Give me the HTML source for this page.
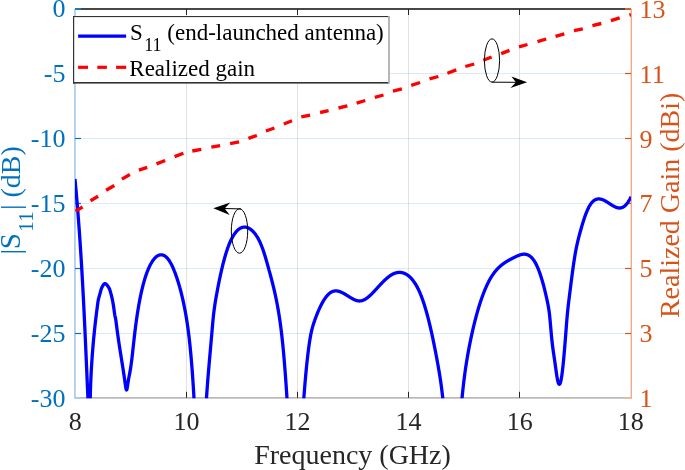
<!DOCTYPE html>
<html><head><meta charset="utf-8"><style>
html,body{margin:0;padding:0;background:#fff;}
svg{display:block;will-change:transform;}
</style></head><body>
<svg width="685" height="470" viewBox="0 0 685 470">
<defs><clipPath id="ax"><rect x="75.0" y="9.0" width="556.0" height="389.2"/></clipPath></defs>
<rect width="685" height="470" fill="#fff"/>
<line x1="186.5" y1="9.0" x2="186.5" y2="397.8" stroke="rgba(0,0,0,0.115)" stroke-width="1"/>
<line x1="297.5" y1="9.0" x2="297.5" y2="397.8" stroke="rgba(0,0,0,0.115)" stroke-width="1"/>
<line x1="408.5" y1="9.0" x2="408.5" y2="397.8" stroke="rgba(0,0,0,0.115)" stroke-width="1"/>
<line x1="519.5" y1="9.0" x2="519.5" y2="397.8" stroke="rgba(0,0,0,0.115)" stroke-width="1"/>
<line x1="75.0" y1="73.5" x2="631.0" y2="73.5" stroke="rgba(0,114,189,0.14)" stroke-width="1"/>
<line x1="75.0" y1="138.5" x2="631.0" y2="138.5" stroke="rgba(0,114,189,0.14)" stroke-width="1"/>
<line x1="75.0" y1="203.5" x2="631.0" y2="203.5" stroke="rgba(0,114,189,0.14)" stroke-width="1"/>
<line x1="75.0" y1="268.5" x2="631.0" y2="268.5" stroke="rgba(0,114,189,0.14)" stroke-width="1"/>
<line x1="75.0" y1="333.5" x2="631.0" y2="333.5" stroke="rgba(0,114,189,0.14)" stroke-width="1"/>
<rect x="75.0" y="8.1" width="556.0" height="1.8" fill="#333333"/>
<rect x="75.0" y="397" width="556.0" height="1.7" fill="#b8b8b8"/>
<rect x="74.1" y="9.0" width="1.7" height="389.7" fill="#a8cde9"/>
<rect x="630.6" y="9.0" width="1.4" height="389.7" fill="#eeaa8c"/>
<line x1="186.5" y1="397.8" x2="186.5" y2="391.8" stroke="#262626" stroke-width="1"/>
<line x1="186.5" y1="9.0" x2="186.5" y2="15.0" stroke="#262626" stroke-width="1"/>
<line x1="297.5" y1="397.8" x2="297.5" y2="391.8" stroke="#262626" stroke-width="1"/>
<line x1="297.5" y1="9.0" x2="297.5" y2="15.0" stroke="#262626" stroke-width="1"/>
<line x1="408.5" y1="397.8" x2="408.5" y2="391.8" stroke="#262626" stroke-width="1"/>
<line x1="408.5" y1="9.0" x2="408.5" y2="15.0" stroke="#262626" stroke-width="1"/>
<line x1="519.5" y1="397.8" x2="519.5" y2="391.8" stroke="#262626" stroke-width="1"/>
<line x1="519.5" y1="9.0" x2="519.5" y2="15.0" stroke="#262626" stroke-width="1"/>
<rect x="75.0" y="8.1" width="6" height="1.8" fill="#1b7ec3"/>
<rect x="75.0" y="397" width="6" height="1.7" fill="#a8cde9"/>
<line x1="75.0" y1="73.5" x2="81.0" y2="73.5" stroke="#0072BD" stroke-width="1.2"/>
<line x1="75.0" y1="138.5" x2="81.0" y2="138.5" stroke="#0072BD" stroke-width="1.2"/>
<line x1="75.0" y1="203.5" x2="81.0" y2="203.5" stroke="#0072BD" stroke-width="1.2"/>
<line x1="75.0" y1="268.5" x2="81.0" y2="268.5" stroke="#0072BD" stroke-width="1.2"/>
<line x1="75.0" y1="333.5" x2="81.0" y2="333.5" stroke="#0072BD" stroke-width="1.2"/>
<rect x="625.0" y="8.1" width="6" height="1.8" fill="#dc6530"/>
<rect x="625.0" y="397" width="6" height="1.7" fill="#f0b496"/>
<line x1="631.0" y1="73.5" x2="625.0" y2="73.5" stroke="#D95319" stroke-width="1.2"/>
<line x1="631.0" y1="138.5" x2="625.0" y2="138.5" stroke="#D95319" stroke-width="1.2"/>
<line x1="631.0" y1="203.5" x2="625.0" y2="203.5" stroke="#D95319" stroke-width="1.2"/>
<line x1="631.0" y1="268.5" x2="625.0" y2="268.5" stroke="#D95319" stroke-width="1.2"/>
<line x1="631.0" y1="333.5" x2="625.0" y2="333.5" stroke="#D95319" stroke-width="1.2"/>
<g clip-path="url(#ax)"><path d="M74.96,179.00 L75.14,180.87 L75.32,182.75 L75.49,184.62 L75.66,186.50 L75.84,188.37 L76.01,190.24 L76.18,192.12 L76.34,193.99 L76.51,195.87 L76.67,197.74 L76.83,199.61 L76.99,201.49 L77.15,203.36 L77.31,205.24 L77.46,207.11 L77.62,208.98 L77.77,210.86 L77.92,212.73 L78.07,214.61 L78.21,216.48 L78.36,218.35 L78.50,220.23 L78.64,222.10 L78.78,223.97 L78.92,225.85 L79.06,227.72 L79.20,229.60 L79.33,231.47 L79.47,233.34 L79.60,235.22 L79.73,237.09 L79.86,238.97 L79.99,240.84 L80.12,242.71 L80.24,244.59 L80.37,246.46 L80.49,248.34 L80.61,250.21 L80.73,252.08 L80.85,253.96 L80.97,255.83 L81.09,257.71 L81.20,259.58 L81.32,261.45 L81.43,263.33 L81.55,265.20 L81.66,267.08 L81.77,268.95 L81.88,270.82 L81.99,272.70 L82.09,274.57 L82.20,276.45 L82.31,278.32 L82.41,280.19 L82.52,282.07 L82.62,283.94 L82.72,285.82 L82.82,287.69 L82.92,289.56 L83.02,291.44 L83.12,293.31 L83.22,295.18 L83.32,297.06 L83.41,298.93 L83.51,300.81 L83.60,302.68 L83.70,304.55 L83.79,306.43 L83.89,308.30 L83.98,310.18 L84.07,312.05 L84.16,313.92 L84.25,315.80 L84.34,317.67 L84.43,319.55 L84.52,321.42 L84.61,323.29 L84.70,325.17 L84.78,327.04 L84.87,328.92 L84.96,330.79 L85.04,332.66 L85.13,334.54 L85.22,336.41 L85.30,338.29 L85.39,340.16 L85.47,342.03 L85.55,343.91 L85.64,345.78 L85.72,347.66 L85.80,349.53 L85.89,351.40 L85.97,353.28 L86.05,355.15 L86.13,357.03 L86.22,358.90 L86.30,360.77 L86.38,362.65 L86.46,364.52 L86.54,366.39 L86.62,368.27 L86.71,370.14 L86.79,372.02 L86.87,373.89 L86.95,375.76 L87.03,377.64 L87.11,379.51 L87.20,381.39 L87.28,383.26 L87.36,385.13 L87.44,387.01 L87.52,388.88 L87.60,390.76 L87.69,392.63 L87.77,394.50 L87.85,396.38 L87.93,398.25 L88.02,400.13 L88.10,402.00 L89.00,410.00 L90.18,402.00 L90.21,400.28 L90.25,398.55 L90.28,396.83 L90.32,395.11 L90.37,393.38 L90.41,391.66 L90.47,389.93 L90.52,388.21 L90.58,386.49 L90.64,384.76 L90.71,383.04 L90.78,381.32 L90.85,379.59 L90.93,377.87 L91.01,376.14 L91.09,374.42 L91.18,372.70 L91.27,370.97 L91.37,369.25 L91.47,367.53 L91.57,365.80 L91.68,364.08 L91.79,362.35 L91.90,360.63 L92.02,358.91 L92.14,357.18 L92.26,355.46 L92.39,353.74 L92.52,352.01 L92.66,350.29 L92.80,348.56 L92.94,346.84 L93.09,345.12 L93.24,343.39 L93.39,341.67 L93.55,339.95 L93.71,338.22 L93.88,336.50 L94.05,334.77 L94.22,333.05 L94.40,331.33 L94.58,329.60 L94.76,327.88 L94.95,326.16 L95.14,324.43 L95.33,322.71 L95.53,320.98 L95.73,319.26 L95.94,317.54 L96.15,315.81 L96.36,314.09 L96.58,312.37 L96.80,310.64 L97.02,308.92 L97.25,307.19 L97.48,305.47 L97.72,303.75 L97.95,302.02 L98.20,300.30 L98.20,300.30 L98.32,299.74 L98.46,299.16 L98.61,298.54 L98.78,297.91 L98.96,297.27 L99.14,296.61 L99.33,295.95 L99.53,295.29 L99.72,294.64 L99.90,294.00 L100.08,293.35 L100.25,292.69 L100.42,292.02 L100.58,291.35 L100.76,290.68 L100.94,290.02 L101.13,289.38 L101.35,288.76 L101.59,288.16 L101.85,287.60 L102.10,287.11 L102.37,286.59 L102.65,286.06 L102.95,285.53 L103.26,285.04 L103.57,284.58 L103.90,284.20 L104.23,283.89 L104.56,283.69 L104.90,283.60 L105.27,283.65 L105.66,283.83 L106.08,284.13 L106.50,284.51 L106.92,284.97 L107.34,285.47 L107.74,286.01 L108.12,286.55 L108.48,287.09 L108.80,287.60 L109.11,288.16 L109.39,288.75 L109.64,289.36 L109.87,290.01 L110.08,290.67 L110.27,291.34 L110.46,292.01 L110.64,292.68 L110.82,293.35 L111.00,294.00 L111.18,294.63 L111.35,295.26 L111.51,295.90 L111.67,296.53 L111.82,297.16 L111.96,297.80 L112.10,298.43 L112.24,299.06 L112.37,299.68 L112.50,300.30 L112.62,300.87 L112.73,301.43 L112.83,301.99 L112.93,302.53 L113.02,303.08 L113.12,303.64 L113.21,304.20 L113.30,304.78 L113.40,305.38 L113.50,306.00 L113.63,306.83 L113.76,307.71 L113.88,308.63 L114.01,309.57 L114.14,310.52 L114.27,311.48 L114.40,312.42 L114.53,313.32 L114.67,314.19 L114.80,315.00 L114.90,315.57 L115.01,316.08 L115.11,316.57 L115.21,317.03 L115.31,317.49 L115.42,317.96 L115.53,318.45 L115.64,318.99 L115.75,319.58 L115.87,320.23 L115.87,320.23 L116.01,321.36 L116.14,322.47 L116.28,323.57 L116.42,324.66 L116.56,325.74 L116.70,326.82 L116.84,327.88 L116.98,328.93 L117.12,329.98 L117.26,331.02 L117.39,332.04 L117.53,333.06 L117.67,334.07 L117.81,335.07 L117.95,336.06 L118.09,337.05 L118.23,338.03 L118.37,338.99 L118.51,339.95 L118.65,340.91 L118.78,341.85 L118.92,342.79 L119.06,343.72 L119.20,344.65 L119.34,345.56 L119.48,346.48 L119.62,347.38 L119.76,348.28 L119.90,349.18 L120.04,350.07 L120.18,350.96 L120.31,351.84 L120.45,352.72 L120.59,353.59 L120.73,354.47 L120.87,355.34 L121.01,356.20 L121.15,357.07 L121.29,357.94 L121.43,358.80 L121.57,359.66 L121.70,360.53 L121.84,361.40 L121.98,362.26 L122.12,363.13 L122.26,364.00 L122.40,364.88 L122.54,365.76 L122.68,366.64 L122.82,367.53 L122.96,368.42 L123.09,369.32 L123.23,370.22 L123.37,371.12 L123.51,372.04 L123.65,372.95 L123.79,373.88 L123.93,374.80 L124.07,375.74 L124.21,376.68 L124.34,377.63 L124.48,378.59 L124.62,379.55 L124.76,380.52 L124.90,381.50 L125.04,382.48 L125.18,383.48 L125.32,384.47 L125.46,385.44 L125.60,386.37 L125.73,387.24 L125.87,388.03 L126.01,388.71 L126.15,389.27 L126.29,389.68 L126.43,389.92 L126.57,389.97 L126.71,389.82 L126.85,389.47 L126.99,388.96 L127.12,388.31 L127.26,387.54 L127.40,386.69 L127.54,385.77 L127.68,384.83 L127.82,383.87 L127.96,382.92 L128.10,382.01 L128.24,381.14 L128.38,380.31 L128.52,379.51 L128.65,378.73 L128.79,377.97 L128.93,377.23 L129.07,376.50 L129.21,375.77 L129.35,375.06 L129.49,374.34 L129.63,373.62 L129.77,372.88 L129.91,372.14 L130.04,371.39 L130.18,370.61 L130.32,369.81 L130.46,368.99 L130.60,368.14 L130.74,367.25 L130.88,366.34 L131.02,365.38 L131.16,364.39 L131.29,363.36 L131.43,362.30 L131.57,361.21 L131.71,360.09 L131.85,358.94 L131.99,357.78 L132.13,356.59 L132.27,355.39 L132.41,354.17 L132.55,352.94 L132.68,351.70 L132.82,350.45 L132.96,349.19 L133.10,347.93 L133.24,346.67 L133.38,345.41 L133.52,344.14 L133.66,342.88 L133.80,341.63 L133.94,340.38 L134.07,339.14 L134.21,337.91 L134.35,336.69 L134.49,335.47 L134.63,334.28 L134.77,333.09 L134.91,331.92 L135.05,330.77 L135.19,329.63 L135.33,328.51 L135.47,327.41 L135.60,326.32 L135.74,325.25 L135.88,324.19 L136.02,323.15 L136.16,322.12 L136.30,321.11 L136.44,320.11 L136.58,319.13 L136.72,318.16 L136.86,317.20 L136.99,316.26 L137.13,315.33 L137.27,314.41 L137.41,313.51 L137.55,312.62 L137.69,311.73 L137.83,310.87 L137.97,310.01 L138.11,309.16 L138.24,308.33 L138.38,307.50 L138.52,306.69 L138.66,305.89 L138.80,305.09 L138.94,304.31 L139.08,303.54 L139.22,302.78 L139.36,302.03 L139.50,301.28 L139.63,300.55 L139.77,299.83 L139.91,299.11 L140.05,298.40 L140.19,297.71 L140.33,297.02 L140.47,296.34 L140.61,295.67 L140.75,295.01 L140.89,294.35 L141.02,293.71 L141.16,293.07 L141.30,292.44 L141.44,291.81 L141.58,291.20 L141.72,290.59 L141.86,289.99 L142.00,289.40 L142.14,288.82 L142.28,288.24 L142.42,287.67 L142.55,287.10 L142.69,286.55 L142.83,286.00 L142.97,285.46 L143.11,284.92 L143.25,284.39 L143.39,283.87 L143.53,283.35 L143.67,282.84 L143.81,282.34 L143.94,281.84 L144.08,281.35 L144.22,280.87 L144.36,280.39 L144.50,279.91 L144.64,279.45 L144.78,278.99 L144.92,278.53 L145.06,278.08 L145.19,277.64 L145.33,277.20 L145.47,276.77 L145.61,276.34 L145.75,275.92 L145.89,275.51 L146.03,275.10 L146.17,274.69 L146.31,274.29 L146.45,273.90 L146.58,273.51 L146.72,273.12 L146.86,272.74 L147.00,272.37 L147.14,272.00 L147.28,271.64 L147.42,271.28 L147.56,270.92 L147.70,270.57 L147.84,270.23 L147.98,269.89 L148.11,269.55 L148.25,269.22 L148.39,268.89 L148.53,268.57 L148.67,268.25 L148.81,267.94 L148.95,267.63 L149.09,267.32 L149.23,267.02 L149.37,266.72 L149.50,266.43 L149.64,266.14 L149.78,265.86 L149.92,265.58 L150.06,265.30 L150.20,265.03 L150.34,264.77 L150.48,264.50 L150.62,264.24 L150.76,263.99 L150.89,263.73 L151.03,263.49 L151.17,263.24 L151.31,263.00 L151.45,262.77 L151.59,262.53 L151.73,262.30 L151.87,262.08 L152.01,261.86 L152.14,261.64 L152.28,261.43 L152.42,261.22 L152.56,261.01 L152.70,260.81 L152.84,260.61 L152.98,260.41 L153.12,260.22 L153.26,260.03 L153.40,259.84 L153.53,259.66 L153.67,259.48 L153.81,259.31 L153.95,259.13 L154.09,258.97 L154.23,258.80 L154.37,258.64 L154.51,258.48 L154.65,258.33 L154.79,258.18 L154.93,258.03 L155.06,257.88 L155.20,257.74 L155.34,257.60 L155.48,257.47 L155.62,257.34 L155.76,257.21 L155.90,257.09 L156.04,256.97 L156.18,256.85 L156.32,256.73 L156.45,256.62 L156.59,256.52 L156.73,256.41 L156.87,256.31 L157.01,256.21 L157.15,256.12 L157.29,256.03 L157.43,255.94 L157.57,255.85 L157.71,255.77 L157.84,255.69 L157.98,255.62 L158.12,255.55 L158.26,255.48 L158.40,255.41 L158.54,255.35 L158.68,255.29 L158.82,255.24 L158.96,255.19 L159.09,255.14 L159.23,255.09 L159.37,255.05 L159.51,255.01 L159.65,254.97 L159.79,254.94 L159.93,254.91 L160.07,254.88 L160.21,254.86 L160.35,254.84 L160.48,254.83 L160.62,254.81 L160.76,254.80 L160.90,254.80 L161.04,254.79 L161.18,254.79 L161.32,254.80 L161.46,254.80 L161.60,254.81 L161.74,254.82 L161.88,254.84 L162.01,254.86 L162.15,254.88 L162.29,254.91 L162.43,254.94 L162.57,254.97 L162.71,255.01 L162.85,255.05 L162.99,255.09 L163.13,255.14 L163.27,255.19 L163.40,255.24 L163.54,255.30 L163.68,255.36 L163.82,255.42 L163.96,255.49 L164.10,255.56 L164.24,255.63 L164.38,255.71 L164.52,255.79 L164.66,255.87 L164.79,255.96 L164.93,256.05 L165.07,256.14 L165.21,256.24 L165.35,256.34 L165.49,256.45 L165.63,256.56 L165.77,256.67 L165.91,256.78 L166.04,256.90 L166.18,257.03 L166.32,257.15 L166.46,257.28 L166.60,257.42 L166.74,257.55 L166.88,257.69 L167.02,257.84 L167.16,257.99 L167.30,258.14 L167.43,258.30 L167.57,258.46 L167.71,258.62 L167.85,258.79 L167.99,258.96 L168.13,259.13 L168.27,259.31 L168.41,259.50 L168.55,259.68 L168.69,259.87 L168.82,260.07 L168.96,260.27 L169.10,260.47 L169.24,260.68 L169.38,260.89 L169.52,261.10 L169.66,261.32 L169.80,261.55 L169.94,261.77 L170.08,262.00 L170.22,262.24 L170.35,262.48 L170.49,262.72 L170.63,262.97 L170.77,263.22 L170.91,263.48 L171.05,263.74 L171.19,264.00 L171.33,264.27 L171.47,264.54 L171.61,264.81 L171.74,265.09 L171.88,265.37 L172.02,265.66 L172.16,265.95 L172.30,266.24 L172.44,266.54 L172.58,266.84 L172.72,267.15 L172.86,267.46 L172.99,267.77 L173.13,268.09 L173.27,268.41 L173.41,268.73 L173.55,269.06 L173.69,269.39 L173.83,269.73 L173.97,270.07 L174.11,270.41 L174.25,270.76 L174.38,271.11 L174.52,271.46 L174.66,271.82 L174.80,272.18 L174.94,272.55 L175.08,272.92 L175.22,273.29 L175.36,273.66 L175.50,274.04 L175.64,274.43 L175.77,274.81 L175.91,275.20 L176.05,275.60 L176.19,276.00 L176.33,276.40 L176.47,276.80 L176.61,277.21 L176.75,277.62 L176.89,278.04 L177.03,278.45 L177.17,278.88 L177.30,279.30 L177.44,279.73 L177.58,280.16 L177.72,280.60 L177.86,281.04 L178.00,281.48 L178.14,281.93 L178.28,282.38 L178.42,282.83 L178.56,283.29 L178.69,283.75 L178.83,284.22 L178.97,284.69 L179.11,285.16 L179.25,285.64 L179.39,286.12 L179.53,286.61 L179.67,287.10 L179.81,287.60 L179.94,288.10 L180.08,288.60 L180.22,289.11 L180.36,289.63 L180.50,290.14 L180.64,290.67 L180.78,291.20 L180.92,291.73 L181.06,292.27 L181.20,292.82 L181.33,293.37 L181.47,293.92 L181.61,294.48 L181.75,295.05 L181.89,295.62 L182.03,296.20 L182.17,296.79 L182.31,297.38 L182.45,297.97 L182.59,298.58 L182.73,299.19 L182.86,299.80 L183.00,300.42 L183.14,301.05 L183.28,301.69 L183.42,302.33 L183.56,302.98 L183.70,303.64 L183.84,304.31 L183.98,304.98 L184.12,305.66 L184.25,306.35 L184.39,307.05 L184.53,307.75 L184.67,308.46 L184.81,309.18 L184.95,309.91 L185.09,310.65 L185.23,311.40 L185.37,312.16 L185.51,312.93 L185.64,313.71 L185.78,314.50 L185.92,315.29 L186.06,316.10 L186.20,316.93 L186.34,317.76 L186.48,318.60 L186.62,319.46 L186.76,320.33 L186.89,321.21 L187.03,322.11 L187.17,323.02 L187.31,323.95 L187.45,324.89 L187.59,325.85 L187.73,326.82 L187.87,327.82 L188.01,328.83 L188.15,329.86 L188.28,330.91 L188.42,331.98 L188.56,333.07 L188.70,334.19 L188.84,335.32 L188.98,336.48 L189.12,337.66 L189.26,338.86 L189.40,340.09 L189.54,341.34 L189.68,342.61 L189.81,343.91 L189.95,345.24 L190.09,346.59 L190.23,347.96 L190.37,349.37 L190.51,350.80 L190.65,352.26 L190.79,353.75 L190.93,355.27 L191.07,356.82 L191.20,358.40 L191.34,360.01 L191.48,361.65 L191.62,363.33 L191.76,365.05 L191.90,366.80 L192.04,368.59 L192.18,370.41 L192.32,372.28 L192.46,374.19 L192.59,376.13 L192.73,378.13 L192.87,380.16 L193.01,382.25 L193.15,384.38 L193.29,386.56 L193.43,388.79 L193.57,391.08 L193.71,393.42 L193.84,395.82 L193.98,398.29 L194.12,400.81 L194.26,403.41 L194.40,406.07 L194.54,408.80 L194.68,411.61 L194.82,414.50 L194.96,417.48 L195.10,420.54 L195.23,423.70 L195.37,426.95 L195.51,430.00 L195.65,430.00 L195.79,430.00 L195.93,430.00 L196.07,430.00 L196.21,430.00 L196.35,430.00 L196.49,430.00 L196.62,430.00 L196.76,430.00 L196.90,430.00 L197.04,430.00 L197.18,430.00 L197.32,430.00 L197.46,430.00 L197.60,430.00 L197.74,430.00 L197.88,430.00 L198.02,430.00 L198.15,430.00 L198.29,430.00 L198.43,430.00 L198.57,430.00 L198.71,430.00 L198.85,430.00 L198.99,430.00 L199.13,430.00 L199.27,430.00 L199.41,430.00 L199.54,430.00 L199.68,430.00 L199.82,430.00 L199.96,430.00 L200.10,430.00 L200.24,430.00 L200.38,430.00 L200.52,430.00 L200.66,430.00 L200.79,430.00 L200.93,430.00 L201.07,430.00 L201.21,430.00 L201.35,430.00 L201.49,430.00 L201.63,430.00 L201.77,430.00 L201.91,430.00 L202.05,430.00 L202.18,430.00 L202.32,430.00 L202.46,430.00 L202.60,430.00 L202.74,430.00 L202.88,430.00 L203.02,430.00 L203.16,430.00 L203.30,430.00 L203.44,430.00 L203.58,430.00 L203.71,430.00 L203.85,430.00 L203.99,430.00 L204.13,430.00 L204.27,430.00 L204.41,430.00 L204.55,430.00 L204.69,430.00 L204.83,428.82 L204.97,425.83 L205.10,422.93 L205.24,420.11 L205.38,417.38 L205.52,414.74 L205.66,412.16 L205.80,409.67 L205.94,407.24 L206.08,404.88 L206.22,402.58 L206.36,400.34 L206.49,398.17 L206.63,396.05 L206.77,393.98 L206.91,391.96 L207.05,389.99 L207.19,388.06 L207.33,386.17 L207.47,384.31 L207.61,382.49 L207.74,380.69 L207.88,378.93 L208.02,377.19 L208.16,375.47 L208.30,373.78 L208.44,372.10 L208.58,370.44 L208.72,368.80 L208.86,367.17 L209.00,365.55 L209.13,363.95 L209.27,362.35 L209.41,360.76 L209.55,359.17 L209.69,357.60 L209.83,356.02 L209.97,354.45 L210.11,352.88 L210.25,351.31 L210.39,349.75 L210.53,348.18 L210.66,346.61 L210.80,345.03 L210.94,343.46 L211.08,341.88 L211.22,340.29 L211.36,338.71 L211.50,337.11 L211.64,335.51 L211.78,333.90 L211.92,332.29 L212.05,330.67 L212.19,329.06 L212.33,327.45 L212.47,325.86 L212.61,324.30 L212.75,322.77 L212.89,321.28 L213.03,319.83 L213.17,318.44 L213.31,317.09 L213.44,315.80 L213.58,314.55 L213.72,313.34 L213.86,312.18 L214.00,311.05 L214.14,309.96 L214.28,308.90 L214.42,307.88 L214.56,306.88 L214.69,305.91 L214.83,304.97 L214.97,304.05 L215.11,303.15 L215.25,302.27 L215.39,301.41 L215.53,300.57 L215.67,299.74 L215.81,298.93 L215.95,298.12 L216.08,297.33 L216.22,296.55 L216.36,295.77 L216.50,295.00 L216.64,294.24 L216.78,293.48 L216.92,292.72 L217.06,291.97 L217.20,291.23 L217.34,290.48 L217.47,289.75 L217.61,289.01 L217.75,288.28 L217.89,287.56 L218.03,286.84 L218.17,286.12 L218.31,285.41 L218.45,284.71 L218.59,284.01 L218.73,283.31 L218.87,282.61 L219.00,281.93 L219.14,281.24 L219.28,280.56 L219.42,279.89 L219.56,279.22 L219.70,278.55 L219.84,277.89 L219.98,277.24 L220.12,276.58 L220.26,275.94 L220.39,275.29 L220.53,274.66 L220.67,274.02 L220.81,273.40 L220.95,272.77 L221.09,272.15 L221.23,271.54 L221.37,270.93 L221.51,270.32 L221.64,269.72 L221.78,269.12 L221.92,268.53 L222.06,267.95 L222.20,267.36 L222.34,266.79 L222.48,266.21 L222.62,265.65 L222.76,265.08 L222.90,264.52 L223.03,263.97 L223.17,263.42 L223.31,262.88 L223.45,262.33 L223.59,261.80 L223.73,261.27 L223.87,260.74 L224.01,260.22 L224.15,259.70 L224.29,259.19 L224.42,258.69 L224.56,258.18 L224.70,257.68 L224.84,257.19 L224.98,256.70 L225.12,256.22 L225.26,255.74 L225.40,255.26 L225.54,254.79 L225.68,254.33 L225.82,253.87 L225.95,253.41 L226.09,252.96 L226.23,252.52 L226.37,252.07 L226.51,251.64 L226.65,251.21 L226.79,250.78 L226.93,250.36 L227.07,249.94 L227.21,249.52 L227.34,249.12 L227.48,248.71 L227.62,248.31 L227.76,247.92 L227.90,247.53 L228.04,247.14 L228.18,246.76 L228.32,246.39 L228.46,246.02 L228.59,245.65 L228.73,245.29 L228.87,244.93 L229.01,244.58 L229.15,244.23 L229.29,243.89 L229.43,243.55 L229.57,243.22 L229.71,242.89 L229.85,242.56 L229.98,242.24 L230.12,241.92 L230.26,241.61 L230.40,241.30 L230.54,241.00 L230.68,240.70 L230.82,240.40 L230.96,240.11 L231.10,239.82 L231.24,239.54 L231.38,239.26 L231.51,238.98 L231.65,238.71 L231.79,238.44 L231.93,238.17 L232.07,237.91 L232.21,237.65 L232.35,237.40 L232.49,237.15 L232.63,236.90 L232.77,236.66 L232.90,236.42 L233.04,236.18 L233.18,235.95 L233.32,235.72 L233.46,235.50 L233.60,235.27 L233.74,235.05 L233.88,234.84 L234.02,234.63 L234.16,234.42 L234.29,234.21 L234.43,234.01 L234.57,233.81 L234.71,233.62 L234.85,233.43 L234.99,233.24 L235.13,233.05 L235.27,232.87 L235.41,232.69 L235.54,232.51 L235.68,232.34 L235.82,232.17 L235.96,232.00 L236.10,231.84 L236.24,231.68 L236.38,231.52 L236.52,231.37 L236.66,231.22 L236.80,231.07 L236.93,230.92 L237.07,230.78 L237.21,230.64 L237.35,230.50 L237.49,230.37 L237.63,230.24 L237.77,230.11 L237.91,229.98 L238.05,229.86 L238.19,229.74 L238.33,229.62 L238.46,229.51 L238.60,229.40 L238.74,229.29 L238.88,229.18 L239.02,229.08 L239.16,228.98 L239.30,228.88 L239.44,228.79 L239.58,228.70 L239.72,228.61 L239.85,228.52 L239.99,228.44 L240.13,228.35 L240.27,228.28 L240.41,228.20 L240.55,228.13 L240.69,228.05 L240.83,227.99 L240.97,227.92 L241.11,227.86 L241.24,227.80 L241.38,227.74 L241.52,227.68 L241.66,227.63 L241.80,227.58 L241.94,227.53 L242.08,227.49 L242.22,227.44 L242.36,227.40 L242.49,227.37 L242.63,227.33 L242.77,227.30 L242.91,227.27 L243.05,227.24 L243.19,227.21 L243.33,227.19 L243.47,227.17 L243.61,227.15 L243.75,227.14 L243.88,227.12 L244.02,227.11 L244.16,227.11 L244.30,227.10 L244.44,227.10 L244.58,227.10 L244.72,227.10 L244.86,227.10 L245.00,227.11 L245.14,227.12 L245.28,227.13 L245.41,227.14 L245.55,227.16 L245.69,227.17 L245.83,227.19 L245.97,227.22 L246.11,227.24 L246.25,227.27 L246.39,227.30 L246.53,227.33 L246.67,227.37 L246.80,227.40 L246.94,227.44 L247.08,227.49 L247.22,227.53 L247.36,227.58 L247.50,227.62 L247.64,227.68 L247.78,227.73 L247.92,227.78 L248.06,227.84 L248.19,227.90 L248.33,227.97 L248.47,228.03 L248.61,228.10 L248.75,228.17 L248.89,228.24 L249.03,228.32 L249.17,228.39 L249.31,228.47 L249.44,228.55 L249.58,228.64 L249.72,228.72 L249.86,228.81 L250.00,228.90 L250.14,228.99 L250.28,229.09 L250.42,229.19 L250.56,229.29 L250.70,229.39 L250.83,229.49 L250.97,229.60 L251.11,229.71 L251.25,229.82 L251.39,229.94 L251.53,230.05 L251.67,230.17 L251.81,230.29 L251.95,230.42 L252.09,230.54 L252.22,230.67 L252.36,230.80 L252.50,230.93 L252.64,231.07 L252.78,231.21 L252.92,231.35 L253.06,231.49 L253.20,231.63 L253.34,231.78 L253.48,231.93 L253.62,232.08 L253.75,232.24 L253.89,232.39 L254.03,232.55 L254.17,232.72 L254.31,232.88 L254.45,233.05 L254.59,233.22 L254.73,233.39 L254.87,233.56 L255.01,233.74 L255.14,233.92 L255.28,234.11 L255.42,234.29 L255.56,234.48 L255.70,234.67 L255.84,234.87 L255.98,235.06 L256.12,235.27 L256.26,235.47 L256.39,235.68 L256.53,235.89 L256.67,236.10 L256.81,236.31 L256.95,236.53 L257.09,236.76 L257.23,236.98 L257.37,237.21 L257.51,237.44 L257.65,237.68 L257.78,237.92 L257.92,238.16 L258.06,238.41 L258.20,238.65 L258.34,238.91 L258.48,239.16 L258.62,239.42 L258.76,239.69 L258.90,239.96 L259.04,240.23 L259.17,240.50 L259.31,240.78 L259.45,241.07 L259.59,241.35 L259.73,241.64 L259.87,241.94 L260.01,242.24 L260.15,242.54 L260.29,242.85 L260.43,243.16 L260.57,243.48 L260.70,243.80 L260.84,244.12 L260.98,244.45 L261.12,244.79 L261.26,245.13 L261.40,245.47 L261.54,245.82 L261.68,246.17 L261.82,246.53 L261.96,246.89 L262.09,247.26 L262.23,247.63 L262.37,248.01 L262.51,248.39 L262.65,248.78 L262.79,249.17 L262.93,249.56 L263.07,249.96 L263.21,250.37 L263.34,250.77 L263.48,251.19 L263.62,251.60 L263.76,252.02 L263.90,252.45 L264.04,252.87 L264.18,253.31 L264.32,253.74 L264.46,254.18 L264.60,254.62 L264.73,255.07 L264.87,255.52 L265.01,255.97 L265.15,256.43 L265.29,256.89 L265.43,257.35 L265.57,257.81 L265.71,258.28 L265.85,258.75 L265.99,259.23 L266.12,259.70 L266.26,260.18 L266.40,260.66 L266.54,261.15 L266.68,261.63 L266.82,262.12 L266.96,262.61 L267.10,263.10 L267.24,263.59 L267.38,264.09 L267.52,264.58 L267.65,265.08 L267.79,265.58 L267.93,266.08 L268.07,266.58 L268.21,267.08 L268.35,267.58 L268.49,268.09 L268.63,268.59 L268.77,269.10 L268.91,269.60 L269.04,270.11 L269.18,270.61 L269.32,271.12 L269.46,271.63 L269.60,272.13 L269.74,272.64 L269.88,273.15 L270.02,273.67 L270.16,274.18 L270.29,274.69 L270.43,275.21 L270.57,275.72 L270.71,276.24 L270.85,276.76 L270.99,277.29 L271.13,277.81 L271.27,278.34 L271.41,278.86 L271.55,279.39 L271.68,279.93 L271.82,280.46 L271.96,281.00 L272.10,281.54 L272.24,282.08 L272.38,282.62 L272.52,283.17 L272.66,283.72 L272.80,284.28 L272.94,284.84 L273.08,285.40 L273.21,285.96 L273.35,286.53 L273.49,287.10 L273.63,287.68 L273.77,288.26 L273.91,288.84 L274.05,289.43 L274.19,290.02 L274.33,290.62 L274.47,291.22 L274.60,291.83 L274.74,292.44 L274.88,293.06 L275.02,293.68 L275.16,294.31 L275.30,294.95 L275.44,295.59 L275.58,296.24 L275.72,296.89 L275.86,297.55 L275.99,298.21 L276.13,298.89 L276.27,299.57 L276.41,300.26 L276.55,300.95 L276.69,301.65 L276.83,302.36 L276.97,303.08 L277.11,303.81 L277.24,304.55 L277.38,305.29 L277.52,306.05 L277.66,306.81 L277.80,307.58 L277.94,308.37 L278.08,309.16 L278.22,309.96 L278.36,310.78 L278.50,311.60 L278.63,312.44 L278.77,313.29 L278.91,314.15 L279.05,315.03 L279.19,315.91 L279.33,316.81 L279.47,317.72 L279.61,318.65 L279.75,319.59 L279.89,320.55 L280.02,321.52 L280.16,322.51 L280.30,323.51 L280.44,324.53 L280.58,325.57 L280.72,326.63 L280.86,327.70 L281.00,328.79 L281.14,329.90 L281.28,331.03 L281.42,332.18 L281.55,333.36 L281.69,334.55 L281.83,335.77 L281.97,337.01 L282.11,338.27 L282.25,339.56 L282.39,340.86 L282.53,342.20 L282.67,343.55 L282.81,344.93 L282.94,346.33 L283.08,347.75 L283.22,349.20 L283.36,350.68 L283.50,352.17 L283.64,353.70 L283.78,355.24 L283.92,356.82 L284.06,358.41 L284.19,360.04 L284.33,361.69 L284.47,363.36 L284.61,365.07 L284.75,366.80 L284.89,368.55 L285.03,370.34 L285.17,372.15 L285.31,373.98 L285.45,375.85 L285.58,377.75 L285.72,379.67 L285.86,381.62 L286.00,383.60 L286.14,385.61 L286.28,387.66 L286.42,389.73 L286.56,391.83 L286.70,393.96 L286.84,396.12 L286.98,398.31 L287.11,400.54 L287.25,402.80 L287.39,405.09 L287.53,407.42 L287.67,409.79 L287.81,412.19 L287.95,414.63 L288.09,417.12 L288.23,419.65 L288.37,422.23 L288.50,424.85 L288.64,427.52 L288.78,430.00 L288.92,430.00 L289.06,430.00 L289.20,430.00 L289.34,430.00 L289.48,430.00 L289.62,430.00 L289.76,430.00 L289.89,430.00 L290.03,430.00 L290.17,430.00 L290.31,430.00 L290.45,430.00 L290.59,430.00 L290.73,430.00 L290.87,430.00 L291.01,430.00 L291.14,430.00 L291.28,430.00 L291.42,430.00 L291.56,430.00 L291.70,430.00 L291.84,430.00 L291.98,430.00 L292.12,430.00 L292.26,430.00 L292.40,430.00 L292.53,430.00 L292.67,430.00 L292.81,430.00 L292.95,430.00 L293.09,430.00 L293.23,430.00 L293.37,430.00 L293.51,430.00 L293.65,430.00 L293.79,430.00 L293.92,430.00 L294.06,430.00 L294.20,430.00 L294.34,430.00 L294.48,430.00 L294.62,430.00 L294.76,430.00 L294.90,430.00 L295.04,430.00 L295.18,430.00 L295.32,430.00 L295.45,430.00 L295.59,430.00 L295.73,430.00 L295.87,430.00 L296.01,430.00 L296.15,430.00 L296.29,430.00 L296.43,430.00 L296.57,430.00 L296.71,430.00 L296.84,430.00 L296.98,430.00 L297.12,430.00 L297.26,430.00 L297.40,430.00 L297.54,430.00 L297.68,430.00 L297.82,430.00 L297.96,430.00 L298.09,430.00 L298.23,430.00 L298.37,430.00 L298.51,430.00 L298.65,430.00 L298.79,430.00 L298.93,430.00 L299.07,430.00 L299.21,430.00 L299.35,430.00 L299.48,430.00 L299.62,430.00 L299.76,430.00 L299.90,430.00 L300.04,430.00 L300.18,430.00 L300.32,430.00 L300.46,430.00 L300.60,430.00 L300.74,430.00 L300.88,430.00 L301.01,430.00 L301.15,430.00 L301.29,430.00 L301.43,430.00 L301.57,430.00 L301.71,429.87 L301.85,427.53 L301.99,425.23 L302.13,422.98 L302.27,420.76 L302.40,418.58 L302.54,416.44 L302.68,414.33 L302.82,412.26 L302.96,410.22 L303.10,408.21 L303.24,406.23 L303.38,404.28 L303.52,402.36 L303.66,400.46 L303.79,398.59 L303.93,396.74 L304.07,394.92 L304.21,393.13 L304.35,391.35 L304.49,389.61 L304.63,387.88 L304.77,386.18 L304.91,384.51 L305.04,382.86 L305.18,381.23 L305.32,379.63 L305.46,378.05 L305.60,376.49 L305.74,374.96 L305.88,373.45 L306.02,371.97 L306.16,370.51 L306.30,369.07 L306.43,367.66 L306.57,366.26 L306.71,364.90 L306.85,363.55 L306.99,362.23 L307.13,360.93 L307.27,359.65 L307.41,358.39 L307.55,357.16 L307.69,355.95 L307.83,354.76 L307.96,353.60 L308.10,352.46 L308.24,351.33 L308.38,350.24 L308.52,349.16 L308.66,348.10 L308.80,347.07 L308.94,346.06 L309.08,345.07 L309.22,344.10 L309.35,343.15 L309.49,342.23 L309.63,341.32 L309.77,340.44 L309.91,339.58 L310.05,338.74 L310.19,337.92 L310.33,337.12 L310.47,336.35 L310.61,335.60 L310.74,334.86 L310.88,334.15 L311.02,333.46 L311.16,332.80 L311.30,332.15 L311.44,331.52 L311.58,330.91 L311.72,330.32 L311.86,329.75 L311.99,329.19 L312.13,328.65 L312.27,328.12 L312.41,327.60 L312.55,327.10 L312.69,326.61 L312.83,326.13 L312.97,325.66 L313.11,325.20 L313.25,324.75 L313.39,324.30 L313.52,323.87 L313.66,323.44 L313.80,323.02 L313.94,322.61 L314.08,322.20 L314.22,321.79 L314.36,321.39 L314.50,320.99 L314.64,320.60 L314.77,320.20 L314.91,319.81 L315.05,319.42 L315.19,319.04 L315.33,318.66 L315.47,318.28 L315.61,317.90 L315.75,317.52 L315.89,317.15 L316.03,316.78 L316.17,316.42 L316.30,316.05 L316.44,315.69 L316.58,315.33 L316.72,314.98 L316.86,314.62 L317.00,314.27 L317.14,313.92 L317.28,313.58 L317.42,313.23 L317.56,312.89 L317.69,312.56 L317.83,312.22 L317.97,311.89 L318.11,311.56 L318.25,311.23 L318.39,310.91 L318.53,310.58 L318.67,310.26 L318.81,309.95 L318.94,309.63 L319.08,309.32 L319.22,309.01 L319.36,308.70 L319.50,308.40 L319.64,308.10 L319.78,307.80 L319.92,307.50 L320.06,307.21 L320.20,306.92 L320.34,306.63 L320.47,306.34 L320.61,306.06 L320.75,305.78 L320.89,305.50 L321.03,305.22 L321.17,304.95 L321.31,304.68 L321.45,304.41 L321.59,304.14 L321.73,303.88 L321.86,303.62 L322.00,303.36 L322.14,303.11 L322.28,302.86 L322.42,302.61 L322.56,302.36 L322.70,302.11 L322.84,301.87 L322.98,301.63 L323.12,301.39 L323.25,301.16 L323.39,300.93 L323.53,300.70 L323.67,300.47 L323.81,300.25 L323.95,300.02 L324.09,299.81 L324.23,299.59 L324.37,299.38 L324.51,299.16 L324.64,298.96 L324.78,298.75 L324.92,298.55 L325.06,298.35 L325.20,298.15 L325.34,297.95 L325.48,297.76 L325.62,297.57 L325.76,297.38 L325.89,297.20 L326.03,297.01 L326.17,296.83 L326.31,296.66 L326.45,296.48 L326.59,296.31 L326.73,296.14 L326.87,295.97 L327.01,295.81 L327.15,295.65 L327.29,295.49 L327.42,295.34 L327.56,295.18 L327.70,295.03 L327.84,294.88 L327.98,294.74 L328.12,294.60 L328.26,294.46 L328.40,294.32 L328.54,294.19 L328.67,294.06 L328.81,293.93 L328.95,293.80 L329.09,293.68 L329.23,293.56 L329.37,293.44 L329.51,293.32 L329.65,293.21 L329.79,293.10 L329.93,293.00 L330.07,292.89 L330.20,292.79 L330.34,292.69 L330.48,292.60 L330.62,292.51 L330.76,292.42 L330.90,292.33 L331.04,292.25 L331.18,292.17 L331.32,292.09 L331.46,292.01 L331.59,291.94 L331.73,291.87 L331.87,291.80 L332.01,291.74 L332.15,291.68 L332.29,291.62 L332.43,291.56 L332.57,291.51 L332.71,291.46 L332.84,291.41 L332.98,291.36 L333.12,291.32 L333.26,291.27 L333.40,291.24 L333.54,291.20 L333.68,291.16 L333.82,291.13 L333.96,291.10 L334.10,291.08 L334.24,291.05 L334.37,291.03 L334.51,291.01 L334.65,290.99 L334.79,290.97 L334.93,290.96 L335.07,290.95 L335.21,290.94 L335.35,290.93 L335.49,290.92 L335.62,290.92 L335.76,290.92 L335.90,290.92 L336.04,290.92 L336.18,290.92 L336.32,290.93 L336.46,290.94 L336.60,290.95 L336.74,290.96 L336.88,290.97 L337.02,290.99 L337.15,291.00 L337.29,291.02 L337.43,291.04 L337.57,291.07 L337.71,291.09 L337.85,291.12 L337.99,291.14 L338.13,291.17 L338.27,291.20 L338.41,291.23 L338.54,291.27 L338.68,291.30 L338.82,291.34 L338.96,291.38 L339.10,291.42 L339.24,291.46 L339.38,291.50 L339.52,291.55 L339.66,291.59 L339.79,291.64 L339.93,291.69 L340.07,291.73 L340.21,291.79 L340.35,291.84 L340.49,291.89 L340.63,291.94 L340.77,292.00 L340.91,292.06 L341.05,292.12 L341.19,292.17 L341.32,292.23 L341.46,292.30 L341.60,292.36 L341.74,292.42 L341.88,292.49 L342.02,292.55 L342.16,292.62 L342.30,292.69 L342.44,292.75 L342.57,292.82 L342.71,292.89 L342.85,292.96 L342.99,293.04 L343.13,293.11 L343.27,293.18 L343.41,293.26 L343.55,293.33 L343.69,293.41 L343.83,293.49 L343.97,293.56 L344.10,293.64 L344.24,293.72 L344.38,293.80 L344.52,293.88 L344.66,293.96 L344.80,294.04 L344.94,294.12 L345.08,294.21 L345.22,294.29 L345.36,294.37 L345.49,294.46 L345.63,294.54 L345.77,294.63 L345.91,294.71 L346.05,294.80 L346.19,294.88 L346.33,294.97 L346.47,295.05 L346.61,295.14 L346.74,295.23 L346.88,295.32 L347.02,295.40 L347.16,295.49 L347.30,295.58 L347.44,295.67 L347.58,295.75 L347.72,295.84 L347.86,295.93 L348.00,296.02 L348.14,296.11 L348.27,296.20 L348.41,296.28 L348.55,296.37 L348.69,296.46 L348.83,296.55 L348.97,296.64 L349.11,296.72 L349.25,296.81 L349.39,296.90 L349.53,296.99 L349.66,297.07 L349.80,297.16 L349.94,297.25 L350.08,297.33 L350.22,297.42 L350.36,297.50 L350.50,297.59 L350.64,297.67 L350.78,297.76 L350.92,297.84 L351.05,297.92 L351.19,298.00 L351.33,298.09 L351.47,298.17 L351.61,298.25 L351.75,298.33 L351.89,298.41 L352.03,298.49 L352.17,298.56 L352.31,298.64 L352.44,298.72 L352.58,298.79 L352.72,298.87 L352.86,298.94 L353.00,299.02 L353.14,299.09 L353.28,299.16 L353.42,299.23 L353.56,299.30 L353.69,299.37 L353.83,299.44 L353.97,299.50 L354.11,299.57 L354.25,299.63 L354.39,299.69 L354.53,299.76 L354.67,299.82 L354.81,299.88 L354.95,299.93 L355.09,299.99 L355.22,300.05 L355.36,300.10 L355.50,300.15 L355.64,300.21 L355.78,300.26 L355.92,300.30 L356.06,300.35 L356.20,300.40 L356.34,300.44 L356.47,300.48 L356.61,300.53 L356.75,300.57 L356.89,300.60 L357.03,300.64 L357.17,300.67 L357.31,300.71 L357.45,300.74 L357.59,300.77 L357.73,300.80 L357.87,300.82 L358.00,300.85 L358.14,300.87 L358.28,300.89 L358.42,300.91 L358.56,300.92 L358.70,300.94 L358.84,300.95 L358.98,300.96 L359.12,300.97 L359.26,300.97 L359.39,300.98 L359.53,300.98 L359.67,300.98 L359.81,300.98 L359.95,300.97 L360.09,300.97 L360.23,300.96 L360.37,300.95 L360.51,300.93 L360.64,300.92 L360.78,300.90 L360.92,300.88 L361.06,300.86 L361.20,300.83 L361.34,300.81 L361.48,300.78 L361.62,300.74 L361.76,300.71 L361.90,300.67 L362.04,300.64 L362.17,300.60 L362.31,300.55 L362.45,300.51 L362.59,300.46 L362.73,300.41 L362.87,300.36 L363.01,300.31 L363.15,300.26 L363.29,300.20 L363.43,300.14 L363.56,300.08 L363.70,300.02 L363.84,299.95 L363.98,299.89 L364.12,299.82 L364.26,299.75 L364.40,299.68 L364.54,299.60 L364.68,299.53 L364.81,299.45 L364.95,299.37 L365.09,299.29 L365.23,299.21 L365.37,299.13 L365.51,299.04 L365.65,298.95 L365.79,298.86 L365.93,298.77 L366.07,298.68 L366.21,298.59 L366.34,298.49 L366.48,298.40 L366.62,298.30 L366.76,298.20 L366.90,298.10 L367.04,298.00 L367.18,297.89 L367.32,297.79 L367.46,297.68 L367.59,297.57 L367.73,297.46 L367.87,297.35 L368.01,297.24 L368.15,297.13 L368.29,297.02 L368.43,296.90 L368.57,296.78 L368.71,296.67 L368.85,296.55 L368.99,296.43 L369.12,296.31 L369.26,296.18 L369.40,296.06 L369.54,295.94 L369.68,295.81 L369.82,295.69 L369.96,295.56 L370.10,295.43 L370.24,295.30 L370.38,295.17 L370.51,295.04 L370.65,294.91 L370.79,294.78 L370.93,294.64 L371.07,294.51 L371.21,294.37 L371.35,294.24 L371.49,294.10 L371.63,293.96 L371.77,293.82 L371.90,293.69 L372.04,293.55 L372.18,293.41 L372.32,293.26 L372.46,293.12 L372.60,292.98 L372.74,292.84 L372.88,292.70 L373.02,292.55 L373.16,292.41 L373.29,292.26 L373.43,292.12 L373.57,291.97 L373.71,291.82 L373.85,291.68 L373.99,291.53 L374.13,291.38 L374.27,291.23 L374.41,291.09 L374.54,290.94 L374.68,290.79 L374.82,290.64 L374.96,290.49 L375.10,290.34 L375.24,290.19 L375.38,290.04 L375.52,289.89 L375.66,289.74 L375.80,289.59 L375.94,289.43 L376.07,289.28 L376.21,289.13 L376.35,288.98 L376.49,288.83 L376.63,288.68 L376.77,288.52 L376.91,288.37 L377.05,288.22 L377.19,288.07 L377.32,287.91 L377.46,287.76 L377.60,287.61 L377.74,287.46 L377.88,287.31 L378.02,287.15 L378.16,287.00 L378.30,286.85 L378.44,286.70 L378.58,286.55 L378.72,286.39 L378.85,286.24 L378.99,286.09 L379.13,285.94 L379.27,285.79 L379.41,285.64 L379.55,285.49 L379.69,285.34 L379.83,285.19 L379.97,285.04 L380.11,284.89 L380.24,284.74 L380.38,284.59 L380.52,284.44 L380.66,284.30 L380.80,284.15 L380.94,284.00 L381.08,283.85 L381.22,283.71 L381.36,283.56 L381.49,283.41 L381.63,283.27 L381.77,283.12 L381.91,282.98 L382.05,282.84 L382.19,282.69 L382.33,282.55 L382.47,282.41 L382.61,282.26 L382.75,282.12 L382.89,281.98 L383.02,281.84 L383.16,281.70 L383.30,281.56 L383.44,281.42 L383.58,281.29 L383.72,281.15 L383.86,281.01 L384.00,280.88 L384.14,280.74 L384.28,280.61 L384.41,280.47 L384.55,280.34 L384.69,280.21 L384.83,280.08 L384.97,279.94 L385.11,279.81 L385.25,279.68 L385.39,279.56 L385.53,279.43 L385.67,279.30 L385.80,279.17 L385.94,279.05 L386.08,278.92 L386.22,278.80 L386.36,278.68 L386.50,278.56 L386.64,278.43 L386.78,278.31 L386.92,278.19 L387.06,278.08 L387.19,277.96 L387.33,277.84 L387.47,277.73 L387.61,277.61 L387.75,277.50 L387.89,277.39 L388.03,277.27 L388.17,277.16 L388.31,277.05 L388.44,276.94 L388.58,276.84 L388.72,276.73 L388.86,276.62 L389.00,276.52 L389.14,276.42 L389.28,276.31 L389.42,276.21 L389.56,276.11 L389.70,276.01 L389.84,275.92 L389.97,275.82 L390.11,275.73 L390.25,275.63 L390.39,275.54 L390.53,275.45 L390.67,275.36 L390.81,275.27 L390.95,275.18 L391.09,275.09 L391.22,275.01 L391.36,274.92 L391.50,274.84 L391.64,274.76 L391.78,274.68 L391.92,274.60 L392.06,274.52 L392.20,274.44 L392.34,274.37 L392.48,274.29 L392.62,274.22 L392.75,274.15 L392.89,274.08 L393.03,274.01 L393.17,273.94 L393.31,273.88 L393.45,273.81 L393.59,273.75 L393.73,273.69 L393.87,273.63 L394.01,273.57 L394.14,273.51 L394.28,273.46 L394.42,273.40 L394.56,273.35 L394.70,273.30 L394.84,273.25 L394.98,273.20 L395.12,273.15 L395.26,273.11 L395.39,273.06 L395.53,273.02 L395.67,272.98 L395.81,272.94 L395.95,272.90 L396.09,272.86 L396.23,272.83 L396.37,272.79 L396.51,272.76 L396.65,272.73 L396.79,272.70 L396.92,272.67 L397.06,272.64 L397.20,272.61 L397.34,272.59 L397.48,272.57 L397.62,272.55 L397.76,272.53 L397.90,272.51 L398.04,272.49 L398.18,272.48 L398.31,272.46 L398.45,272.45 L398.59,272.44 L398.73,272.43 L398.87,272.42 L399.01,272.41 L399.15,272.41 L399.29,272.41 L399.43,272.40 L399.56,272.40 L399.70,272.40 L399.84,272.41 L399.98,272.41 L400.12,272.42 L400.26,272.42 L400.40,272.43 L400.54,272.44 L400.68,272.46 L400.82,272.47 L400.96,272.48 L401.09,272.50 L401.23,272.52 L401.37,272.54 L401.51,272.56 L401.65,272.58 L401.79,272.61 L401.93,272.63 L402.07,272.66 L402.21,272.69 L402.34,272.72 L402.48,272.75 L402.62,272.79 L402.76,272.82 L402.90,272.86 L403.04,272.90 L403.18,272.94 L403.32,272.98 L403.46,273.03 L403.60,273.07 L403.74,273.12 L403.87,273.17 L404.01,273.22 L404.15,273.27 L404.29,273.33 L404.43,273.39 L404.57,273.44 L404.71,273.50 L404.85,273.56 L404.99,273.63 L405.12,273.69 L405.26,273.76 L405.40,273.83 L405.54,273.90 L405.68,273.97 L405.82,274.04 L405.96,274.12 L406.10,274.19 L406.24,274.27 L406.38,274.35 L406.52,274.44 L406.65,274.52 L406.79,274.61 L406.93,274.69 L407.07,274.78 L407.21,274.88 L407.35,274.97 L407.49,275.07 L407.63,275.16 L407.77,275.26 L407.91,275.36 L408.04,275.47 L408.18,275.57 L408.32,275.68 L408.46,275.79 L408.60,275.90 L408.74,276.01 L408.88,276.13 L409.02,276.24 L409.16,276.36 L409.29,276.48 L409.43,276.61 L409.57,276.73 L409.71,276.86 L409.85,276.99 L409.99,277.12 L410.13,277.25 L410.27,277.39 L410.41,277.52 L410.55,277.66 L410.69,277.81 L410.82,277.95 L410.96,278.10 L411.10,278.24 L411.24,278.39 L411.38,278.55 L411.52,278.70 L411.66,278.86 L411.80,279.02 L411.94,279.18 L412.07,279.34 L412.21,279.51 L412.35,279.68 L412.49,279.85 L412.63,280.02 L412.77,280.19 L412.91,280.37 L413.05,280.55 L413.19,280.73 L413.33,280.92 L413.47,281.11 L413.60,281.29 L413.74,281.49 L413.88,281.68 L414.02,281.88 L414.16,282.08 L414.30,282.28 L414.44,282.48 L414.58,282.69 L414.72,282.90 L414.86,283.11 L414.99,283.33 L415.13,283.54 L415.27,283.76 L415.41,283.98 L415.55,284.21 L415.69,284.44 L415.83,284.67 L415.97,284.90 L416.11,285.14 L416.24,285.38 L416.38,285.62 L416.52,285.86 L416.66,286.11 L416.80,286.36 L416.94,286.61 L417.08,286.87 L417.22,287.13 L417.36,287.39 L417.50,287.65 L417.64,287.92 L417.77,288.19 L417.91,288.47 L418.05,288.74 L418.19,289.02 L418.33,289.31 L418.47,289.59 L418.61,289.88 L418.75,290.17 L418.89,290.47 L419.03,290.77 L419.16,291.07 L419.30,291.38 L419.44,291.69 L419.58,292.00 L419.72,292.32 L419.86,292.64 L420.00,292.96 L420.14,293.28 L420.28,293.61 L420.42,293.95 L420.55,294.29 L420.69,294.63 L420.83,294.97 L420.97,295.32 L421.11,295.67 L421.25,296.03 L421.39,296.39 L421.53,296.75 L421.67,297.12 L421.81,297.49 L421.94,297.86 L422.08,298.24 L422.22,298.62 L422.36,299.01 L422.50,299.39 L422.64,299.79 L422.78,300.18 L422.92,300.58 L423.06,300.99 L423.19,301.39 L423.33,301.80 L423.47,302.22 L423.61,302.64 L423.75,303.06 L423.89,303.49 L424.03,303.91 L424.17,304.35 L424.31,304.78 L424.45,305.22 L424.59,305.67 L424.72,306.12 L424.86,306.57 L425.00,307.02 L425.14,307.48 L425.28,307.94 L425.42,308.41 L425.56,308.88 L425.70,309.35 L425.84,309.83 L425.97,310.31 L426.11,310.79 L426.25,311.28 L426.39,311.77 L426.53,312.27 L426.67,312.77 L426.81,313.27 L426.95,313.77 L427.09,314.28 L427.23,314.80 L427.37,315.31 L427.50,315.83 L427.64,316.36 L427.78,316.89 L427.92,317.42 L428.06,317.95 L428.20,318.49 L428.34,319.03 L428.48,319.58 L428.62,320.13 L428.76,320.68 L428.89,321.24 L429.03,321.80 L429.17,322.36 L429.31,322.93 L429.45,323.50 L429.59,324.08 L429.73,324.65 L429.87,325.24 L430.01,325.82 L430.14,326.41 L430.28,327.00 L430.42,327.60 L430.56,328.20 L430.70,328.80 L430.84,329.41 L430.98,330.02 L431.12,330.63 L431.26,331.25 L431.40,331.87 L431.54,332.49 L431.67,333.12 L431.81,333.75 L431.95,334.39 L432.09,335.02 L432.23,335.67 L432.37,336.31 L432.51,336.96 L432.65,337.61 L432.79,338.27 L432.93,338.93 L433.06,339.59 L433.20,340.25 L433.34,340.92 L433.48,341.59 L433.62,342.27 L433.76,342.95 L433.90,343.63 L434.04,344.31 L434.18,345.00 L434.31,345.69 L434.45,346.39 L434.59,347.09 L434.73,347.79 L434.87,348.49 L435.01,349.20 L435.15,349.91 L435.29,350.62 L435.43,351.34 L435.57,352.06 L435.71,352.78 L435.84,353.51 L435.98,354.24 L436.12,354.97 L436.26,355.70 L436.40,356.44 L436.54,357.18 L436.68,357.92 L436.82,358.66 L436.96,359.41 L437.09,360.16 L437.23,360.92 L437.37,361.67 L437.51,362.43 L437.65,363.20 L437.79,363.97 L437.93,364.74 L438.07,365.52 L438.21,366.30 L438.35,367.09 L438.49,367.89 L438.62,368.69 L438.76,369.50 L438.90,370.32 L439.04,371.14 L439.18,371.98 L439.32,372.82 L439.46,373.67 L439.60,374.53 L439.74,375.40 L439.88,376.28 L440.01,377.17 L440.15,378.08 L440.29,378.99 L440.43,379.92 L440.57,380.86 L440.71,381.82 L440.85,382.79 L440.99,383.78 L441.13,384.78 L441.27,385.80 L441.40,386.83 L441.54,387.89 L441.68,388.96 L441.82,390.06 L441.96,391.17 L442.10,392.30 L442.24,393.46 L442.38,394.64 L442.52,395.85 L442.66,397.08 L442.79,398.34 L442.93,399.62 L443.07,400.93 L443.21,402.27 L443.35,403.64 L443.49,405.04 L443.63,406.47 L443.77,407.93 L443.91,409.43 L444.04,410.95 L444.18,412.51 L444.32,414.11 L444.46,415.74 L444.60,417.41 L444.74,419.11 L444.88,420.86 L445.02,422.64 L445.16,424.47 L445.30,426.34 L445.44,428.25 L445.57,430.00 L445.71,430.00 L445.85,430.00 L445.99,430.00 L446.13,430.00 L446.27,430.00 L446.41,430.00 L446.55,430.00 L446.69,430.00 L446.82,430.00 L446.96,430.00 L447.10,430.00 L447.24,430.00 L447.38,430.00 L447.52,430.00 L447.66,430.00 L447.80,430.00 L447.94,430.00 L448.08,430.00 L448.22,430.00 L448.35,430.00 L448.49,430.00 L448.63,430.00 L448.77,430.00 L448.91,430.00 L449.05,430.00 L449.19,430.00 L449.33,430.00 L449.47,430.00 L449.61,430.00 L449.74,430.00 L449.88,430.00 L450.02,430.00 L450.16,430.00 L450.30,430.00 L450.44,430.00 L450.58,430.00 L450.72,430.00 L450.86,430.00 L450.99,430.00 L451.13,430.00 L451.27,430.00 L451.41,430.00 L451.55,430.00 L451.69,430.00 L451.83,430.00 L451.97,430.00 L452.11,430.00 L452.25,430.00 L452.39,430.00 L452.52,430.00 L452.66,430.00 L452.80,430.00 L452.94,430.00 L453.08,430.00 L453.22,430.00 L453.36,430.00 L453.50,430.00 L453.64,430.00 L453.78,430.00 L453.91,430.00 L454.05,430.00 L454.19,430.00 L454.33,430.00 L454.47,430.00 L454.61,430.00 L454.75,430.00 L454.89,430.00 L455.03,430.00 L455.17,430.00 L455.30,430.00 L455.44,430.00 L455.58,430.00 L455.72,430.00 L455.86,430.00 L456.00,430.00 L456.14,430.00 L456.28,430.00 L456.42,430.00 L456.56,430.00 L456.69,430.00 L456.83,430.00 L456.97,430.00 L457.11,430.00 L457.25,430.00 L457.39,430.00 L457.53,430.00 L457.67,430.00 L457.81,430.00 L457.94,430.00 L458.08,430.00 L458.22,430.00 L458.36,430.00 L458.50,430.00 L458.64,430.00 L458.78,430.00 L458.92,430.00 L459.06,430.00 L459.20,430.00 L459.34,430.00 L459.47,430.00 L459.61,428.48 L459.75,426.41 L459.89,424.38 L460.03,422.39 L460.17,420.46 L460.31,418.56 L460.45,416.70 L460.59,414.89 L460.72,413.11 L460.86,411.37 L461.00,409.67 L461.14,408.00 L461.28,406.36 L461.42,404.76 L461.56,403.19 L461.70,401.65 L461.84,400.15 L461.98,398.67 L462.12,397.22 L462.25,395.80 L462.39,394.41 L462.53,393.05 L462.67,391.71 L462.81,390.39 L462.95,389.10 L463.09,387.83 L463.23,386.59 L463.37,385.37 L463.51,384.16 L463.64,382.98 L463.78,381.82 L463.92,380.67 L464.06,379.55 L464.20,378.44 L464.34,377.35 L464.48,376.28 L464.62,375.22 L464.76,374.18 L464.89,373.15 L465.03,372.14 L465.17,371.14 L465.31,370.16 L465.45,369.19 L465.59,368.23 L465.73,367.29 L465.87,366.36 L466.01,365.44 L466.15,364.53 L466.29,363.64 L466.42,362.75 L466.56,361.88 L466.70,361.01 L466.84,360.16 L466.98,359.31 L467.12,358.48 L467.26,357.65 L467.40,356.84 L467.54,356.03 L467.68,355.23 L467.81,354.44 L467.95,353.66 L468.09,352.88 L468.23,352.11 L468.37,351.35 L468.51,350.60 L468.65,349.85 L468.79,349.11 L468.93,348.38 L469.06,347.65 L469.20,346.93 L469.34,346.21 L469.48,345.50 L469.62,344.79 L469.76,344.09 L469.90,343.40 L470.04,342.71 L470.18,342.03 L470.32,341.35 L470.46,340.67 L470.59,340.00 L470.73,339.33 L470.87,338.67 L471.01,338.01 L471.15,337.36 L471.29,336.71 L471.43,336.06 L471.57,335.42 L471.71,334.78 L471.84,334.15 L471.98,333.52 L472.12,332.90 L472.26,332.27 L472.40,331.66 L472.54,331.04 L472.68,330.43 L472.82,329.83 L472.96,329.23 L473.10,328.63 L473.24,328.04 L473.37,327.45 L473.51,326.86 L473.65,326.28 L473.79,325.70 L473.93,325.12 L474.07,324.55 L474.21,323.98 L474.35,323.42 L474.49,322.86 L474.62,322.30 L474.76,321.75 L474.90,321.20 L475.04,320.65 L475.18,320.11 L475.32,319.57 L475.46,319.03 L475.60,318.50 L475.74,317.97 L475.88,317.44 L476.02,316.92 L476.15,316.40 L476.29,315.88 L476.43,315.37 L476.57,314.86 L476.71,314.36 L476.85,313.85 L476.99,313.35 L477.13,312.86 L477.27,312.36 L477.41,311.87 L477.54,311.39 L477.68,310.90 L477.82,310.42 L477.96,309.95 L478.10,309.47 L478.24,309.00 L478.38,308.53 L478.52,308.07 L478.66,307.60 L478.79,307.15 L478.93,306.69 L479.07,306.24 L479.21,305.79 L479.35,305.34 L479.49,304.90 L479.63,304.46 L479.77,304.02 L479.91,303.58 L480.05,303.15 L480.19,302.72 L480.32,302.29 L480.46,301.87 L480.60,301.45 L480.74,301.03 L480.88,300.62 L481.02,300.20 L481.16,299.80 L481.30,299.39 L481.44,298.99 L481.57,298.58 L481.71,298.19 L481.85,297.79 L481.99,297.40 L482.13,297.01 L482.27,296.62 L482.41,296.24 L482.55,295.85 L482.69,295.48 L482.83,295.10 L482.97,294.73 L483.10,294.35 L483.24,293.99 L483.38,293.62 L483.52,293.26 L483.66,292.90 L483.80,292.54 L483.94,292.18 L484.08,291.83 L484.22,291.48 L484.36,291.14 L484.49,290.79 L484.63,290.45 L484.77,290.11 L484.91,289.77 L485.05,289.44 L485.19,289.11 L485.33,288.78 L485.47,288.45 L485.61,288.13 L485.74,287.80 L485.88,287.49 L486.02,287.17 L486.16,286.86 L486.30,286.54 L486.44,286.23 L486.58,285.93 L486.72,285.62 L486.86,285.32 L487.00,285.02 L487.14,284.73 L487.27,284.43 L487.41,284.14 L487.55,283.85 L487.69,283.57 L487.83,283.28 L487.97,283.00 L488.11,282.72 L488.25,282.44 L488.39,282.17 L488.53,281.90 L488.66,281.63 L488.80,281.36 L488.94,281.10 L489.08,280.83 L489.22,280.57 L489.36,280.32 L489.50,280.06 L489.64,279.81 L489.78,279.56 L489.92,279.31 L490.05,279.07 L490.19,278.82 L490.33,278.58 L490.47,278.34 L490.61,278.11 L490.75,277.87 L490.89,277.64 L491.03,277.41 L491.17,277.19 L491.31,276.96 L491.44,276.74 L491.58,276.52 L491.72,276.30 L491.86,276.08 L492.00,275.87 L492.14,275.66 L492.28,275.45 L492.42,275.24 L492.56,275.03 L492.69,274.83 L492.83,274.62 L492.97,274.42 L493.11,274.23 L493.25,274.03 L493.39,273.84 L493.53,273.64 L493.67,273.45 L493.81,273.26 L493.95,273.08 L494.09,272.89 L494.22,272.71 L494.36,272.52 L494.50,272.34 L494.64,272.17 L494.78,271.99 L494.92,271.81 L495.06,271.64 L495.20,271.47 L495.34,271.30 L495.47,271.13 L495.61,270.96 L495.75,270.80 L495.89,270.63 L496.03,270.47 L496.17,270.31 L496.31,270.15 L496.45,269.99 L496.59,269.84 L496.73,269.68 L496.87,269.53 L497.00,269.38 L497.14,269.22 L497.28,269.08 L497.42,268.93 L497.56,268.78 L497.70,268.64 L497.84,268.49 L497.98,268.35 L498.12,268.21 L498.26,268.07 L498.39,267.93 L498.53,267.79 L498.67,267.66 L498.81,267.52 L498.95,267.39 L499.09,267.26 L499.23,267.12 L499.37,266.99 L499.51,266.87 L499.64,266.74 L499.78,266.61 L499.92,266.49 L500.06,266.36 L500.20,266.24 L500.34,266.12 L500.48,265.99 L500.62,265.87 L500.76,265.76 L500.90,265.64 L501.04,265.52 L501.17,265.41 L501.31,265.29 L501.45,265.18 L501.59,265.06 L501.73,264.95 L501.87,264.84 L502.01,264.73 L502.15,264.62 L502.29,264.51 L502.43,264.41 L502.56,264.30 L502.70,264.19 L502.84,264.09 L502.98,263.99 L503.12,263.88 L503.26,263.78 L503.40,263.68 L503.54,263.58 L503.68,263.48 L503.81,263.38 L503.95,263.28 L504.09,263.18 L504.23,263.09 L504.37,262.99 L504.51,262.90 L504.65,262.80 L504.79,262.71 L504.93,262.62 L505.07,262.52 L505.21,262.43 L505.34,262.34 L505.48,262.25 L505.62,262.16 L505.76,262.07 L505.90,261.98 L506.04,261.89 L506.18,261.81 L506.32,261.72 L506.46,261.63 L506.59,261.55 L506.73,261.46 L506.87,261.38 L507.01,261.30 L507.15,261.21 L507.29,261.13 L507.43,261.05 L507.57,260.97 L507.71,260.88 L507.85,260.80 L507.99,260.72 L508.12,260.64 L508.26,260.56 L508.40,260.48 L508.54,260.41 L508.68,260.33 L508.82,260.25 L508.96,260.17 L509.10,260.10 L509.24,260.02 L509.38,259.94 L509.51,259.87 L509.65,259.79 L509.79,259.72 L509.93,259.64 L510.07,259.57 L510.21,259.49 L510.35,259.42 L510.49,259.34 L510.63,259.27 L510.77,259.20 L510.90,259.13 L511.04,259.05 L511.18,258.98 L511.32,258.91 L511.46,258.84 L511.60,258.76 L511.74,258.69 L511.88,258.62 L512.02,258.55 L512.16,258.48 L512.29,258.41 L512.43,258.34 L512.57,258.27 L512.71,258.20 L512.85,258.13 L512.99,258.06 L513.13,257.99 L513.27,257.92 L513.41,257.85 L513.54,257.78 L513.68,257.71 L513.82,257.64 L513.96,257.57 L514.10,257.50 L514.24,257.43 L514.38,257.36 L514.52,257.29 L514.66,257.22 L514.80,257.15 L514.94,257.08 L515.07,257.02 L515.21,256.95 L515.35,256.88 L515.49,256.81 L515.63,256.74 L515.77,256.68 L515.91,256.61 L516.05,256.54 L516.19,256.48 L516.33,256.41 L516.46,256.35 L516.60,256.28 L516.74,256.22 L516.88,256.15 L517.02,256.09 L517.16,256.03 L517.30,255.97 L517.44,255.91 L517.58,255.85 L517.72,255.79 L517.85,255.73 L517.99,255.67 L518.13,255.61 L518.27,255.55 L518.41,255.50 L518.55,255.44 L518.69,255.39 L518.83,255.33 L518.97,255.28 L519.11,255.23 L519.24,255.18 L519.38,255.13 L519.52,255.08 L519.66,255.03 L519.80,254.99 L519.94,254.94 L520.08,254.90 L520.22,254.85 L520.36,254.81 L520.49,254.77 L520.63,254.73 L520.77,254.69 L520.91,254.65 L521.05,254.62 L521.19,254.58 L521.33,254.55 L521.47,254.52 L521.61,254.49 L521.75,254.46 L521.89,254.43 L522.02,254.40 L522.16,254.38 L522.30,254.35 L522.44,254.33 L522.58,254.31 L522.72,254.29 L522.86,254.28 L523.00,254.26 L523.14,254.25 L523.28,254.23 L523.41,254.22 L523.55,254.21 L523.69,254.21 L523.83,254.20 L523.97,254.20 L524.11,254.20 L524.25,254.20 L524.39,254.20 L524.53,254.20 L524.66,254.21 L524.80,254.22 L524.94,254.23 L525.08,254.24 L525.22,254.25 L525.36,254.27 L525.50,254.29 L525.64,254.31 L525.78,254.33 L525.92,254.35 L526.06,254.38 L526.19,254.41 L526.33,254.44 L526.47,254.47 L526.61,254.51 L526.75,254.55 L526.89,254.59 L527.03,254.63 L527.17,254.68 L527.31,254.72 L527.44,254.77 L527.58,254.83 L527.72,254.88 L527.86,254.94 L528.00,255.00 L528.14,255.06 L528.28,255.13 L528.42,255.20 L528.56,255.27 L528.70,255.34 L528.84,255.42 L528.97,255.50 L529.11,255.58 L529.25,255.67 L529.39,255.75 L529.53,255.85 L529.67,255.94 L529.81,256.04 L529.95,256.14 L530.09,256.24 L530.22,256.35 L530.36,256.46 L530.50,256.57 L530.64,256.68 L530.78,256.80 L530.92,256.92 L531.06,257.05 L531.20,257.18 L531.34,257.31 L531.48,257.45 L531.61,257.59 L531.75,257.73 L531.89,257.88 L532.03,258.03 L532.17,258.18 L532.31,258.34 L532.45,258.50 L532.59,258.66 L532.73,258.83 L532.87,259.01 L533.01,259.18 L533.14,259.36 L533.28,259.55 L533.42,259.73 L533.56,259.93 L533.70,260.12 L533.84,260.32 L533.98,260.53 L534.12,260.74 L534.26,260.95 L534.39,261.17 L534.53,261.39 L534.67,261.62 L534.81,261.85 L534.95,262.09 L535.09,262.33 L535.23,262.57 L535.37,262.82 L535.51,263.08 L535.65,263.33 L535.79,263.60 L535.92,263.87 L536.06,264.14 L536.20,264.41 L536.34,264.69 L536.48,264.98 L536.62,265.27 L536.76,265.56 L536.90,265.86 L537.04,266.16 L537.17,266.47 L537.31,266.78 L537.45,267.10 L537.59,267.42 L537.73,267.75 L537.87,268.08 L538.01,268.41 L538.15,268.75 L538.29,269.09 L538.43,269.44 L538.56,269.79 L538.70,270.15 L538.84,270.51 L538.98,270.88 L539.12,271.25 L539.26,271.62 L539.40,272.00 L539.54,272.38 L539.68,272.77 L539.82,273.16 L539.96,273.56 L540.09,273.96 L540.23,274.37 L540.37,274.78 L540.51,275.20 L540.65,275.62 L540.79,276.04 L540.93,276.47 L541.07,276.90 L541.21,277.34 L541.34,277.78 L541.48,278.23 L541.62,278.68 L541.76,279.14 L541.90,279.60 L542.04,280.07 L542.18,280.54 L542.32,281.01 L542.46,281.49 L542.60,281.98 L542.74,282.47 L542.87,282.96 L543.01,283.46 L543.15,283.97 L543.29,284.47 L543.43,284.99 L543.57,285.51 L543.71,286.03 L543.85,286.56 L543.99,287.09 L544.12,287.63 L544.26,288.17 L544.40,288.72 L544.54,289.27 L544.68,289.83 L544.82,290.39 L544.96,290.96 L545.10,291.53 L545.24,292.10 L545.38,292.69 L545.51,293.27 L545.65,293.87 L545.79,294.46 L545.93,295.07 L546.07,295.67 L546.21,296.29 L546.35,296.91 L546.49,297.53 L546.63,298.16 L546.77,298.79 L546.91,299.43 L547.04,300.07 L547.18,300.72 L547.32,301.38 L547.46,302.04 L547.60,302.71 L547.74,303.38 L547.88,304.07 L548.02,304.77 L548.16,305.49 L548.29,306.24 L548.43,307.02 L548.57,307.83 L548.71,308.69 L548.85,309.58 L548.99,310.53 L549.13,311.53 L549.27,312.59 L549.41,313.71 L549.55,314.91 L549.69,316.19 L549.82,317.54 L549.96,318.96 L550.10,320.44 L550.24,321.97 L550.38,323.53 L550.52,325.13 L550.66,326.74 L550.80,328.36 L550.94,329.97 L551.08,331.55 L551.21,333.11 L551.35,334.61 L551.49,336.07 L551.63,337.49 L551.77,338.86 L551.91,340.18 L552.05,341.46 L552.19,342.70 L552.33,343.91 L552.46,345.07 L552.60,346.20 L552.74,347.30 L552.88,348.37 L553.02,349.41 L553.16,350.42 L553.30,351.42 L553.44,352.39 L553.58,353.35 L553.72,354.29 L553.86,355.23 L553.99,356.16 L554.13,357.08 L554.27,358.01 L554.41,358.94 L554.55,359.87 L554.69,360.82 L554.83,361.79 L554.97,362.77 L555.11,363.76 L555.25,364.76 L555.38,365.77 L555.52,366.78 L555.66,367.80 L555.80,368.81 L555.94,369.81 L556.08,370.81 L556.22,371.80 L556.36,372.77 L556.50,373.72 L556.64,374.65 L556.77,375.56 L556.91,376.43 L557.05,377.27 L557.19,378.07 L557.33,378.84 L557.47,379.55 L557.61,380.22 L557.75,380.85 L557.89,381.42 L558.03,381.95 L558.16,382.42 L558.30,382.85 L558.44,383.22 L558.58,383.54 L558.72,383.80 L558.86,384.01 L559.00,384.17 L559.14,384.27 L559.28,384.32 L559.41,384.31 L559.55,384.24 L559.69,384.12 L559.83,383.95 L559.97,383.71 L560.11,383.42 L560.25,383.08 L560.39,382.68 L560.53,382.22 L560.67,381.71 L560.81,381.15 L560.94,380.53 L561.08,379.86 L561.22,379.14 L561.36,378.36 L561.50,377.54 L561.64,376.66 L561.78,375.74 L561.92,374.77 L562.06,373.75 L562.20,372.69 L562.33,371.59 L562.47,370.44 L562.61,369.25 L562.75,368.02 L562.89,366.75 L563.03,365.44 L563.17,364.09 L563.31,362.71 L563.45,361.30 L563.59,359.85 L563.72,358.37 L563.86,356.86 L564.00,355.33 L564.14,353.76 L564.28,352.17 L564.42,350.55 L564.56,348.91 L564.70,347.25 L564.84,345.56 L564.97,343.86 L565.11,342.13 L565.25,340.39 L565.39,338.63 L565.53,336.85 L565.67,335.06 L565.81,333.25 L565.95,331.44 L566.09,329.62 L566.23,327.80 L566.36,326.00 L566.50,324.22 L566.64,322.47 L566.78,320.76 L566.92,319.09 L567.06,317.46 L567.20,315.89 L567.34,314.38 L567.48,312.92 L567.62,311.51 L567.76,310.15 L567.89,308.82 L568.03,307.53 L568.17,306.28 L568.31,305.06 L568.45,303.86 L568.59,302.68 L568.73,301.53 L568.87,300.39 L569.01,299.27 L569.15,298.15 L569.28,297.04 L569.42,295.94 L569.56,294.85 L569.70,293.75 L569.84,292.65 L569.98,291.55 L570.12,290.45 L570.26,289.34 L570.40,288.24 L570.54,287.13 L570.67,286.03 L570.81,284.93 L570.95,283.83 L571.09,282.73 L571.23,281.63 L571.37,280.54 L571.51,279.46 L571.65,278.38 L571.79,277.31 L571.92,276.24 L572.06,275.18 L572.20,274.13 L572.34,273.08 L572.48,272.04 L572.62,271.02 L572.76,270.00 L572.90,268.99 L573.04,267.99 L573.18,267.00 L573.31,266.02 L573.45,265.05 L573.59,264.09 L573.73,263.14 L573.87,262.21 L574.01,261.29 L574.15,260.38 L574.29,259.48 L574.43,258.59 L574.57,257.72 L574.71,256.86 L574.84,256.02 L574.98,255.19 L575.12,254.37 L575.26,253.56 L575.40,252.78 L575.54,252.00 L575.68,251.24 L575.82,250.50 L575.96,249.77 L576.10,249.05 L576.23,248.35 L576.37,247.66 L576.51,246.98 L576.65,246.31 L576.79,245.66 L576.93,245.01 L577.07,244.38 L577.21,243.75 L577.35,243.14 L577.49,242.53 L577.62,241.94 L577.76,241.35 L577.90,240.77 L578.04,240.19 L578.18,239.63 L578.32,239.06 L578.46,238.51 L578.60,237.96 L578.74,237.42 L578.88,236.88 L579.01,236.35 L579.15,235.82 L579.29,235.29 L579.43,234.77 L579.57,234.25 L579.71,233.74 L579.85,233.22 L579.99,232.71 L580.13,232.20 L580.26,231.70 L580.40,231.20 L580.54,230.69 L580.68,230.20 L580.82,229.70 L580.96,229.21 L581.10,228.72 L581.24,228.23 L581.38,227.75 L581.52,227.27 L581.66,226.79 L581.79,226.31 L581.93,225.84 L582.07,225.37 L582.21,224.90 L582.35,224.44 L582.49,223.98 L582.63,223.52 L582.77,223.07 L582.91,222.62 L583.05,222.18 L583.18,221.73 L583.32,221.29 L583.46,220.86 L583.60,220.43 L583.74,220.00 L583.88,219.57 L584.02,219.15 L584.16,218.73 L584.30,218.32 L584.44,217.91 L584.57,217.51 L584.71,217.11 L584.85,216.71 L584.99,216.31 L585.13,215.92 L585.27,215.54 L585.41,215.16 L585.55,214.78 L585.69,214.41 L585.83,214.04 L585.96,213.68 L586.10,213.31 L586.24,212.96 L586.38,212.61 L586.52,212.26 L586.66,211.92 L586.80,211.58 L586.94,211.25 L587.08,210.92 L587.21,210.59 L587.35,210.27 L587.49,209.96 L587.63,209.65 L587.77,209.34 L587.91,209.04 L588.05,208.75 L588.19,208.45 L588.33,208.17 L588.47,207.89 L588.61,207.61 L588.74,207.34 L588.88,207.07 L589.02,206.81 L589.16,206.55 L589.30,206.30 L589.44,206.05 L589.58,205.81 L589.72,205.58 L589.86,205.35 L590.00,205.12 L590.13,204.90 L590.27,204.68 L590.41,204.47 L590.55,204.27 L590.69,204.06 L590.83,203.87 L590.97,203.68 L591.11,203.49 L591.25,203.31 L591.39,203.13 L591.52,202.95 L591.66,202.78 L591.80,202.62 L591.94,202.46 L592.08,202.30 L592.22,202.15 L592.36,202.00 L592.50,201.86 L592.64,201.72 L592.77,201.58 L592.91,201.45 L593.05,201.32 L593.19,201.20 L593.33,201.07 L593.47,200.96 L593.61,200.84 L593.75,200.74 L593.89,200.63 L594.03,200.53 L594.16,200.43 L594.30,200.33 L594.44,200.24 L594.58,200.15 L594.72,200.07 L594.86,199.99 L595.00,199.91 L595.14,199.84 L595.28,199.76 L595.42,199.70 L595.56,199.63 L595.69,199.57 L595.83,199.51 L595.97,199.45 L596.11,199.40 L596.25,199.35 L596.39,199.30 L596.53,199.26 L596.67,199.22 L596.81,199.18 L596.95,199.15 L597.08,199.11 L597.22,199.08 L597.36,199.06 L597.50,199.03 L597.64,199.01 L597.78,198.99 L597.92,198.97 L598.06,198.96 L598.20,198.95 L598.34,198.94 L598.47,198.93 L598.61,198.93 L598.75,198.93 L598.89,198.93 L599.03,198.93 L599.17,198.94 L599.31,198.94 L599.45,198.95 L599.59,198.96 L599.73,198.98 L599.86,198.99 L600.00,199.01 L600.14,199.03 L600.28,199.06 L600.42,199.08 L600.56,199.11 L600.70,199.13 L600.84,199.16 L600.98,199.20 L601.11,199.23 L601.25,199.27 L601.39,199.30 L601.53,199.34 L601.67,199.39 L601.81,199.43 L601.95,199.47 L602.09,199.52 L602.23,199.57 L602.37,199.62 L602.50,199.67 L602.64,199.72 L602.78,199.77 L602.92,199.83 L603.06,199.89 L603.20,199.95 L603.34,200.01 L603.48,200.07 L603.62,200.13 L603.76,200.19 L603.90,200.26 L604.03,200.32 L604.17,200.39 L604.31,200.46 L604.45,200.53 L604.59,200.60 L604.73,200.67 L604.87,200.75 L605.01,200.82 L605.15,200.90 L605.29,200.97 L605.42,201.05 L605.56,201.13 L605.70,201.21 L605.84,201.29 L605.98,201.37 L606.12,201.45 L606.26,201.53 L606.40,201.61 L606.54,201.70 L606.68,201.78 L606.81,201.87 L606.95,201.95 L607.09,202.04 L607.23,202.13 L607.37,202.21 L607.51,202.30 L607.65,202.39 L607.79,202.48 L607.93,202.57 L608.06,202.66 L608.20,202.75 L608.34,202.84 L608.48,202.93 L608.62,203.02 L608.76,203.11 L608.90,203.20 L609.04,203.29 L609.18,203.38 L609.32,203.47 L609.46,203.56 L609.59,203.65 L609.73,203.75 L609.87,203.84 L610.01,203.93 L610.15,204.02 L610.29,204.11 L610.43,204.20 L610.57,204.29 L610.71,204.38 L610.85,204.47 L610.98,204.56 L611.12,204.65 L611.26,204.74 L611.40,204.83 L611.54,204.91 L611.68,205.00 L611.82,205.09 L611.96,205.17 L612.10,205.26 L612.24,205.35 L612.37,205.43 L612.51,205.51 L612.65,205.60 L612.79,205.68 L612.93,205.76 L613.07,205.84 L613.21,205.92 L613.35,206.00 L613.49,206.08 L613.62,206.15 L613.76,206.23 L613.90,206.30 L614.04,206.38 L614.18,206.45 L614.32,206.52 L614.46,206.59 L614.60,206.66 L614.74,206.73 L614.88,206.79 L615.01,206.86 L615.15,206.92 L615.29,206.98 L615.43,207.04 L615.57,207.10 L615.71,207.16 L615.85,207.22 L615.99,207.27 L616.13,207.32 L616.27,207.38 L616.41,207.43 L616.54,207.47 L616.68,207.52 L616.82,207.56 L616.96,207.61 L617.10,207.65 L617.24,207.68 L617.38,207.72 L617.52,207.75 L617.66,207.79 L617.80,207.82 L617.93,207.85 L618.07,207.87 L618.21,207.90 L618.35,207.92 L618.49,207.94 L618.63,207.95 L618.77,207.97 L618.91,207.98 L619.05,207.99 L619.19,208.00 L619.32,208.01 L619.46,208.01 L619.60,208.01 L619.74,208.01 L619.88,208.00 L620.02,207.99 L620.16,207.98 L620.30,207.97 L620.44,207.96 L620.57,207.94 L620.71,207.92 L620.85,207.89 L620.99,207.87 L621.13,207.84 L621.27,207.80 L621.41,207.77 L621.55,207.73 L621.69,207.69 L621.83,207.64 L621.96,207.60 L622.10,207.55 L622.24,207.49 L622.38,207.43 L622.52,207.37 L622.66,207.31 L622.80,207.24 L622.94,207.17 L623.08,207.10 L623.22,207.02 L623.36,206.94 L623.49,206.86 L623.63,206.77 L623.77,206.68 L623.91,206.59 L624.05,206.49 L624.19,206.39 L624.33,206.29 L624.47,206.18 L624.61,206.07 L624.75,205.95 L624.88,205.84 L625.02,205.71 L625.16,205.59 L625.30,205.46 L625.44,205.32 L625.58,205.19 L625.72,205.05 L625.86,204.90 L626.00,204.75 L626.14,204.60 L626.27,204.45 L626.41,204.29 L626.55,204.12 L626.69,203.95 L626.83,203.78 L626.97,203.61 L627.11,203.43 L627.25,203.25 L627.39,203.06 L627.52,202.87 L627.66,202.67 L627.80,202.47 L627.94,202.27 L628.08,202.06 L628.22,201.85 L628.36,201.64 L628.50,201.42 L628.64,201.20 L628.78,200.97 L628.91,200.74 L629.05,200.50 L629.19,200.26 L629.33,200.02 L629.47,199.77 L629.61,199.52 L629.75,199.26 L629.89,199.01 L630.03,198.74 L630.17,198.47 L630.31,198.20 L630.44,197.93 L630.58,197.65 L630.72,197.36 L630.86,197.07 L631.00,196.78" fill="none" stroke="#0000ff" stroke-width="3.3" stroke-linejoin="round" stroke-linecap="butt"/></g>
<g clip-path="url(#ax)"><path d="M75.4,211.1 L82.6,207.0 M90.5,200.8 L98.1,196.3 M106.1,190.3 L114.3,185.5 M121.9,179.1 L129.9,174.5 M138.9,170.2 L147.2,167.4 M156.5,163.9 L165.2,160.5 M174.6,156.6 L183.4,153.2 M192.3,151 L201.3,149.4 M211.3,147.1 L220.1,145.6 M230.1,143.7 L239.1,141.9 M248.4,138.4 L256.9,135.5 M265.9,131 L274.4,128 M283.8,124 L292,120.8 M301.3,116.8 L310.1,115.1 M320.1,112.5 L328.6,110.7 M338.5,108 L347.4,105.9 M356.6,103.2 L365.3,100.5 M374.8,97.3 L383.5,95 M393,91.2 L401.9,88.9 M411.2,85.4 L420.1,82.5 M429.5,78.9 L438.4,76.5 M447.4,73.2 L456.3,69.9 M465.3,66.5 L474.2,64 M483.3,60.3 L491.6,57 M501.2,53.6 L509.5,50.4 M519,46.8 L527.5,44.5 M537.5,41.6 L546.2,39 M555.5,36.3 L564.3,33.9 M574,30.7 L582.8,28.8 M592.4,25.6 L601.3,23.5 M610.9,20.6 L619.7,17.8 M629.4,15.2 L631,14.7" fill="none" stroke="#ff0000" stroke-width="3.35" stroke-linecap="butt"/></g>
<text x="75.30" y="430" font-family="Liberation Serif" font-size="26" fill="#262626" text-anchor="middle">8</text>
<text x="186.40" y="430" font-family="Liberation Serif" font-size="26" fill="#262626" text-anchor="middle">10</text>
<text x="297.50" y="430" font-family="Liberation Serif" font-size="26" fill="#262626" text-anchor="middle">12</text>
<text x="408.60" y="430" font-family="Liberation Serif" font-size="26" fill="#262626" text-anchor="middle">14</text>
<text x="519.70" y="430" font-family="Liberation Serif" font-size="26" fill="#262626" text-anchor="middle">16</text>
<text x="630.80" y="430" font-family="Liberation Serif" font-size="26" fill="#262626" text-anchor="middle">18</text>
<text x="65.5" y="17.10" font-family="Liberation Serif" font-size="26" fill="#0072BD" text-anchor="end">0</text>
<text x="65.5" y="82.07" font-family="Liberation Serif" font-size="26" fill="#0072BD" text-anchor="end">-5</text>
<text x="65.5" y="147.04" font-family="Liberation Serif" font-size="26" fill="#0072BD" text-anchor="end">-10</text>
<text x="65.5" y="212.01" font-family="Liberation Serif" font-size="26" fill="#0072BD" text-anchor="end">-15</text>
<text x="65.5" y="276.98" font-family="Liberation Serif" font-size="26" fill="#0072BD" text-anchor="end">-20</text>
<text x="65.5" y="341.95" font-family="Liberation Serif" font-size="26" fill="#0072BD" text-anchor="end">-25</text>
<text x="65.5" y="406.92" font-family="Liberation Serif" font-size="26" fill="#0072BD" text-anchor="end">-30</text>
<text x="639.6" y="17.70" font-family="Liberation Serif" font-size="26" fill="#D95319">13</text>
<text x="639.6" y="82.60" font-family="Liberation Serif" font-size="26" fill="#D95319">11</text>
<text x="639.6" y="147.50" font-family="Liberation Serif" font-size="26" fill="#D95319">9</text>
<text x="639.6" y="212.40" font-family="Liberation Serif" font-size="26" fill="#D95319">7</text>
<text x="639.6" y="277.30" font-family="Liberation Serif" font-size="26" fill="#D95319">5</text>
<text x="639.6" y="342.20" font-family="Liberation Serif" font-size="26" fill="#D95319">3</text>
<text x="639.6" y="407.10" font-family="Liberation Serif" font-size="26" fill="#D95319">1</text>
<text x="352.5" y="463.5" font-family="Liberation Serif" font-size="28" fill="#262626" text-anchor="middle">Frequency (GHz)</text>
<text transform="translate(19.7,254.5) rotate(-90)" font-family="Liberation Serif" font-size="28" fill="#0072BD"><tspan x="0">|</tspan><tspan x="5.2" font-size="29">S</tspan><tspan x="22.5" dy="12.9" font-size="21.5">11</tspan><tspan x="44.5" dy="-12.9">|</tspan><tspan x="56.9">(dB)</tspan></text>
<text transform="translate(679.3,318.1) rotate(-90)" font-family="Liberation Serif" font-size="28" fill="#D95319">Realized Gain (dBi)</text>
<rect x="73.5" y="16.5" width="315.5" height="66.3" fill="#fff"/>
<rect x="73" y="16" width="316" height="1.1" fill="#333"/>
<rect x="73" y="16" width="1.2" height="67.6" fill="#333"/>
<rect x="73" y="82" width="316" height="1.6" fill="#333"/>
<rect x="388.1" y="16" width="1.8" height="67.6" fill="#b0b0b0"/>
<line x1="78.1" y1="36.1" x2="126.1" y2="36.1" stroke="#0000ff" stroke-width="3.3"/>
<line x1="78.1" y1="67.3" x2="88" y2="67.3" stroke="#ff0000" stroke-width="3.2"/>
<line x1="97.3" y1="67.3" x2="106.9" y2="67.3" stroke="#ff0000" stroke-width="3.2"/>
<line x1="116.1" y1="67.3" x2="126.2" y2="67.3" stroke="#ff0000" stroke-width="3.2"/>
<text x="129.9" y="40.2" font-family="Liberation Serif" font-size="23" fill="#000">S<tspan font-size="18" dx="1.5" dy="10.8">11</tspan><tspan dy="-10.8"> (end-launched antenna)</tspan></text>
<text x="129.3" y="75.7" font-family="Liberation Serif" font-size="23" fill="#000">Realized gain</text>
<ellipse cx="239.5" cy="231" rx="8.2" ry="22.2" fill="none" stroke="#000" stroke-width="1"/>
<line x1="241" y1="208.9" x2="224" y2="208.5" stroke="#000" stroke-width="1"/>
<path d="M213.3,208.3 L230.3,202.4 L224.7,208.6 L229.7,215 Z" fill="#000"/>
<ellipse cx="492" cy="60.5" rx="7.6" ry="21.6" fill="none" stroke="#000" stroke-width="1"/>
<line x1="492" y1="82.2" x2="516" y2="82.3" stroke="#000" stroke-width="1"/>
<path d="M527.1,82.3 L511.4,76.6 L515.9,82.3 L510.5,88.1 Z" fill="#000"/>
</svg>
</body></html>
